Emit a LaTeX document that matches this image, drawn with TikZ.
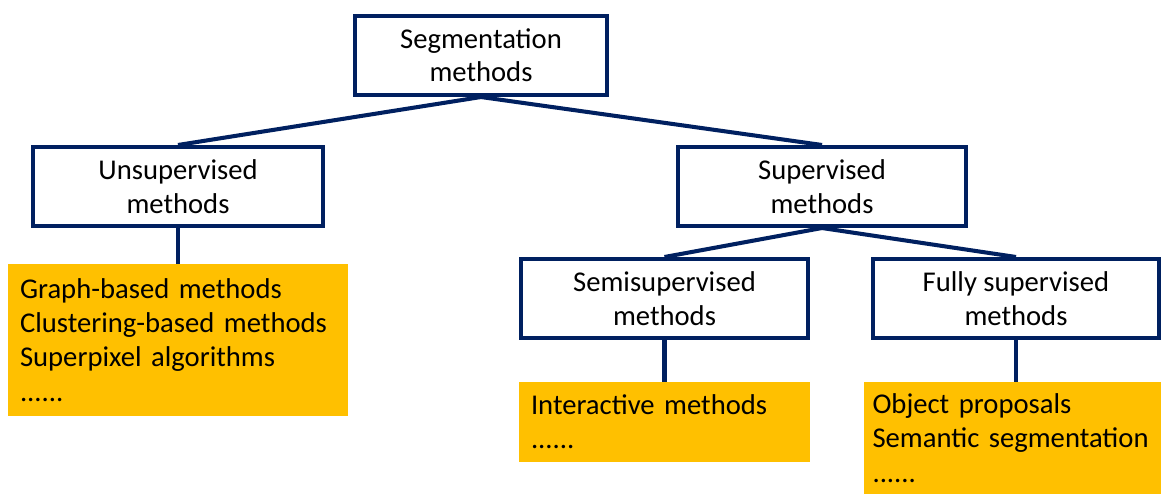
\documentclass[tikz,border=0pt]{standalone}
\usepackage{fontspec}
\setmainfont{Carlito}
\usetikzlibrary{positioning}

\definecolor{navy}{HTML}{002060}
\definecolor{amber}{HTML}{FFC000}
\newcommand\nohyph{\hyphenpenalty=10000\relax}

\begin{document}
\begin{tikzpicture}[x=0.02cm, y=-0.02cm,
  catbox/.style={draw=navy, line width=2.3pt, fill=white, align=center,
    minimum height=1.58cm, inner sep=0pt,
    font=\fontsize{16.3}{19}\selectfont},
  listbox/.style={fill=amber, align=left, inner xsep=0.24cm, inner ysep=0pt,
    font=\fontsize{16.3}{19.5}\selectfont\nohyph},
  link/.style={draw=navy, line width=2.3pt}]

\useasboundingbox (0,0) rectangle (1164,494);

% category boxes
\node[catbox, minimum width=5.04cm] (seg)   at (481,55.5)    {Segmentation\\methods};
\node[catbox, minimum width=5.80cm] (unsup) at (178,186.5)   {Unsupervised\\methods};
\node[catbox, minimum width=5.76cm] (sup)   at (822,186.5)   {Supervised\\methods};
\node[catbox, minimum width=5.74cm] (semi)  at (664.5,298.5) {Semisupervised\\methods};
\node[catbox, minimum width=5.72cm] (fully) at (1016,298.5)  {Fully supervised\\methods};

% method lists
\node[listbox, text width=6.32cm, minimum height=3.04cm] (unsuplist) at (178,340)
  {Graph-based methods\\Clustering-based methods\\Superpixel algorithms\\......};
\node[listbox, text width=5.34cm, minimum height=1.60cm] (semilist) at (664.5,422)
  {Interactive methods\\......};
\node[listbox, text width=5.6cm, inner xsep=0.17cm, minimum height=2.24cm] (fullylist) at (1012.5,438)
  {Object proposals\\Semantic segmentation\\......};

% tree links
\foreach \a/\b in {seg/unsup, seg/sup, sup/semi, sup/fully}
  \draw[link] (\a.south) -- (\b.north);
\foreach \a/\b in {unsup/unsuplist, semi/semilist, fully/fullylist}
  \draw[link] (\a.south) -- (\a.south |- \b.north);

% redraw boxes on top of the links
\node[catbox, minimum width=5.04cm] at (seg)   {Segmentation\\methods};
\node[catbox, minimum width=5.80cm] at (unsup) {Unsupervised\\methods};
\node[catbox, minimum width=5.76cm] at (sup)   {Supervised\\methods};
\node[catbox, minimum width=5.74cm] at (semi)  {Semisupervised\\methods};
\node[catbox, minimum width=5.72cm] at (fully) {Fully supervised\\methods};

\end{tikzpicture}
\end{document}
